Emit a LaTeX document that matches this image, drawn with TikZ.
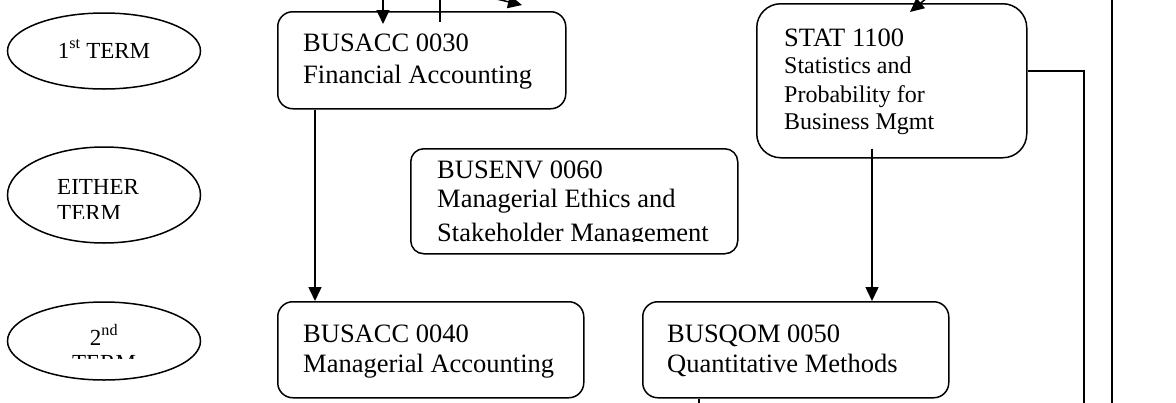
\documentclass[tikz,border=0pt]{standalone}
\usepackage{fontspec}
\setmainfont{Liberation Serif}
\usetikzlibrary{shapes.geometric, arrows.meta, positioning}

\begin{document}
\begin{tikzpicture}[
    x=1pt, y=-1pt,
    term/.style={ellipse, draw=black, line width=1.5pt, inner sep=0pt, minimum width=193pt},
    course/.style={rectangle, rounded corners=15pt, draw=black, line width=1.5pt, inner sep=0pt, anchor=north west},
    termtext/.style={anchor=base, inner sep=0pt, font=\fontsize{23}{26}\selectfont},
    big/.style={anchor=base west, inner sep=0pt, font=\fontsize{26.5}{30}\selectfont},
    small/.style={anchor=base west, inner sep=0pt, font=\fontsize{24}{28}\selectfont},
    arrow/.style={line width=1.5pt, -{Triangle[length=14pt,width=13pt]}},
    line/.style={line width=1.5pt}
]
\useasboundingbox (0,0) rectangle (1176,402);
\clip (0,0) rectangle (1176,402);

% terms
\node (term1) [term, minimum height=76pt] at (104,51) {};
\node (term2) [term, minimum height=96pt] at (104,195) {};
\node (term3) [term, minimum height=78pt] at (104,341) {};

\node (term1text) [termtext] at (104,58) {1\textsuperscript{st} TERM};
\begin{scope}
\clip (0,150) rectangle (200,218.5);
\node (term2a) [termtext, anchor=base west] at (57,194) {EITHER};
\node (term2b) [termtext, anchor=base west] at (57,220) {TERM};
\end{scope}
\begin{scope}
\clip (0,310) rectangle (200,358);
\node (term3a) [termtext] at (104,345) {2\textsuperscript{nd}};
\node (term3b) [termtext] at (104,370) {TERM};
\end{scope}

% courses
\node (acc30) [course, minimum width=288pt, minimum height=97pt] at (277,11) {};
\node (acc30a) [big] at (303,51) {BUSACC 0030};
\node (acc30b) [big] at (303,83) {Financial Accounting};

\node (env60) [course, rounded corners=13pt, minimum width=327pt, minimum height=105pt] at (410,148) {};
\begin{scope}
\clip (400,150) rectangle (740,241);
\node (env60a) [big] at (437,178) {BUSENV 0060};
\node (env60b) [big] at (437,207) {Managerial Ethics and};
\node (env60c) [big] at (437,241) {Stakeholder Management};
\end{scope}

\node (stat) [course, rounded corners=24pt, minimum width=270pt, minimum height=154pt] at (756,3) {};
\node (stata) [big] at (784,46) {STAT 1100};
\node (statb) [small] at (784,73) {Statistics and};
\node (statc) [small] at (784,102) {Probability for};
\node (statd) [small] at (784,129) {Business Mgmt};

\node (acc40) [course, minimum width=306pt, minimum height=96pt] at (277,301) {};
\node (acc40a) [big] at (303,342) {BUSACC 0040};
\node (acc40b) [big] at (303,372) {Managerial Accounting};

\node (qom50) [course, minimum width=306pt, minimum height=96pt] at (642,301) {};
\node (qom50a) [big] at (667,342) {BUSQOM 0050};
\node (qom50b) [big] at (667,372) {Quantitative Methods};

% connectors
\coordinate (in1) at (383,-5);
\coordinate (in2) at (440,-5);
\coordinate (in3) at (488,-3);
\coordinate (in4) at (522,5);
\coordinate (in5) at (958,-28);
\coordinate (in6) at (910,12);
\coordinate (out1) at (1084,410);
\coordinate (rail1) at (1112,-5);
\coordinate (rail2) at (1112,410);

\draw [arrow] (in1) -- ([yshift=-13pt]in1 |- acc30.north);
\draw [line] (in2) -- ([yshift=-11pt]in2 |- acc30.north);
\draw [arrow] (in3) -- (in4);
\draw [arrow] (in5) -- (in6);
\draw [arrow] ([xshift=38pt]acc30.south west) -- ([xshift=38pt]acc40.north west);
\draw [arrow] ([shift={(116,-10)}]stat.south west) -- ([xshift=230pt]qom50.north west);
\draw [line] ([yshift=10pt]stat.east) -| (out1);
\draw [line] (rail1) -- (rail2);
\draw [line] ([xshift=57pt]qom50.south west) -- ++(0,12);

\end{tikzpicture}
\end{document}
